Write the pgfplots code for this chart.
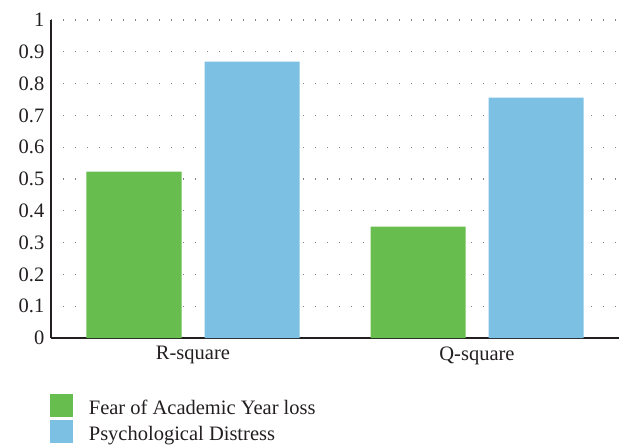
\documentclass[border=0pt]{standalone}
\usepackage{pgfplots}
\pgfplotsset{compat=1.18}
\usepackage{fontspec}
\setmainfont{Liberation Serif}
\definecolor{bargreen}{RGB}{104,189,79}
\definecolor{barblue}{RGB}{124,193,228}
\definecolor{txt}{RGB}{35,31,32}
\begin{document}
\begin{tikzpicture}[font=\fontsize{20.5bp}{24bp}\selectfont, text=txt]
\path[use as bounding box] (-51bp,-110bp) rectangle (575bp,338bp);
\begin{axis}[
  at={(0,0)}, anchor=south west,
  scale only axis, width=568bp, height=318bp,
  xmin=-0.5, xmax=1.5, ymin=0, ymax=1,
  ybar=23bp, bar width=95bp,
  xtick={0,1}, xticklabels={R-square,Q-square},
  ytick={0,0.1,0.2,0.3,0.4,0.5,0.6,0.7,0.8,0.9,1},
  /pgf/number format/assume math mode=true,
  axis x line*=bottom, axis y line*=left,
  axis line style={line width=1.2bp, txt, -},
  major tick length=0pt,
  ymajorgrids,
  grid style={gray, line width=1.3bp, dash pattern=on 1.3bp off 10.7bp},
  tick label style={font=\fontsize{20.5bp}{24bp}\selectfont, text=txt},
  yticklabel style={xshift=-3.2bp},
  xticklabel style={yshift=-5bp},
  legend style={at={(-0.0018,-0.1767)}, anchor=north west, draw=none, fill=none,
    inner sep=0pt, row sep=2bp, font=\fontsize{20.5bp}{24bp}\selectfont,
    /tikz/every odd column/.append style={column sep=14bp}},
  legend cell align=left,
]
\addplot[fill=bargreen, draw=none,
  legend image code/.code={\fill[bargreen] (0bp,-9bp) rectangle (22.7bp,13.7bp);}]
  coordinates {(0,0.523) (1,0.35)};
\addplot[fill=barblue, draw=none,
  legend image code/.code={\fill[barblue] (0bp,-9bp) rectangle (22.7bp,13.7bp);}]
  coordinates {(0,0.869) (1,0.756)};
\legend{Fear of Academic Year loss, Psychological Distress}
\end{axis}
\end{tikzpicture}
\end{document}
